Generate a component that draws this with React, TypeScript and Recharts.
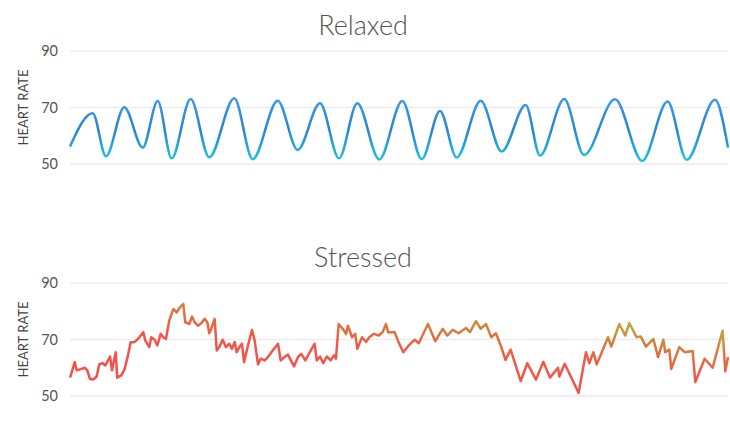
import React from 'react';
import { LineChart, Line, XAxis, YAxis, CartesianGrid } from 'recharts';

// time in seconds (0-60), heart rate in bpm
const relaxedTime = [
  0, 2.07, 3.28, 4.95, 6.63, 8.0, 9.27, 11.0, 12.7, 14.98, 16.66, 18.94, 20.76, 22.8, 24.53, 26.2, 28.2,
  30.3, 32.07, 33.74, 35.26, 37.45, 39.36, 41.55, 42.86, 45.07, 46.87, 49.7, 52.18, 54.49, 56.23, 58.81, 60,
];
const relaxedRate = [
  56.2, 68, 52.7, 70.1, 55.8, 72.3, 52, 73, 52.4, 73.3, 51.7, 72.4, 55, 71.5, 52, 71.5, 51.6,
  72.3, 51.7, 68.8, 52.3, 72.4, 54.4, 70.9, 53, 73, 53.2, 72.9, 51.1, 72.1, 51.5, 72.7, 55.8,
];

const stressedTime = [
  0, 0.12, 0.43, 0.61, 0.98, 1.34, 1.58, 1.82, 2.12, 2.43, 2.67, 2.98, 3.22, 3.47, 3.65, 3.83, 4.17, 4.31,
  4.68, 4.99, 5.29, 5.53, 5.84, 6.2, 6.68, 6.87, 7.23, 7.41, 7.72, 7.96, 8.27, 8.51, 8.75, 9.05, 9.42,
  9.73, 10.03, 10.33, 10.51, 10.88, 11.12, 11.37, 11.67, 11.97, 12.28, 12.52, 12.7, 12.88, 13.19, 13.38,
  13.61, 13.92, 14.22, 14.53, 14.77, 15.02, 15.2, 15.44, 15.68, 15.87, 16.23, 16.6, 16.84, 17.14, 17.39,
  17.75, 18.05, 18.48, 18.97, 19.21, 19.58, 19.88, 20.06, 20.43, 20.79, 21.09, 21.46, 21.95, 22.31, 22.5,
  22.8, 23.1, 23.41, 23.77, 24.07, 24.25, 24.5, 24.87, 25.17, 25.35, 25.71, 26.01, 26.2, 26.63, 26.99,
  27.29, 27.72, 28.15, 28.51, 28.81, 29.0, 29.36, 29.6, 29.91, 30.39, 30.88, 31.43, 31.8, 32.64, 33.31,
  33.98, 34.4, 34.9, 35.44, 36.11, 36.47, 37.02, 37.45, 37.93, 38.42, 38.84, 39.33, 39.71, 40.18, 41.1,
  41.7, 42.49, 43.16, 43.77, 44.5, 44.62, 45.11, 46.38, 47.05, 47.35, 47.72, 48.03, 49.06, 49.36, 50.09,
  50.63, 51.0, 51.67, 52.04, 52.52, 53.19, 53.62, 54.1, 54.28, 54.65, 54.83, 55.56, 56.05, 56.78, 57.02,
  57.87, 58.6, 59.51, 59.75, 60,
];
const stressedRate = [
  56.5, 57.9, 62, 59.1, 59.5, 60, 59.1, 56.1, 55.8, 56.9, 61.2, 61.6, 60.8, 62.6, 64, 59.1, 65.5, 56.5,
  57.3, 59.6, 64.4, 69, 69, 70.2, 72.6, 69.6, 67.3, 70.8, 69.9, 67.9, 72, 70.8, 70.2, 76.7, 80.8,
  79.6, 81.4, 82.6, 76.1, 75.5, 78.1, 76.1, 74.9, 75.8, 77.3, 76.1, 72.2, 73.8, 77.3, 66.1,
  67.3, 69.9, 67.3, 68.5, 66.7, 69.1, 65.5, 67.3, 68.5, 62, 67.9, 73.4, 69.6, 61.2, 63.2,
  62.6, 63.8, 66.1, 68.5, 62.6, 63.8, 64.7, 63.2, 60.5, 63.8, 64.9, 62.6, 66.1, 68.5, 62.6,
  64, 61.6, 64, 62.6, 64.4, 63.2, 75.5, 73.8, 72, 74.9, 70.8, 72, 66.7, 70.8, 69.1,
  70.8, 72, 71.4, 72.6, 75.5, 72.6, 72.6, 72.6, 69.5, 65.5, 67.9, 69.9, 68.7, 75.5, 69.4,
  73.8, 71.4, 73.4, 72.2, 74.1, 72.6, 76.5, 73.8, 75.5, 70.8, 72.2, 67.3, 62.8, 66.4, 55.3,
  61.6, 55.8, 62.1, 56.5, 60, 56.9, 61.4, 51.1, 65.5, 61.6, 65.5, 61.2, 70.8, 67.5, 75.5,
  71.4, 75.8, 70.8, 71.1, 67.5, 70.2, 63.8, 69.9, 65.5, 66.4, 59.6, 67.3, 65.5, 65.9, 54.9,
  63.2, 60, 73.2, 58.8, 63.8,
];

const rateTicks = [50, 70, 90];

const relaxedData = relaxedTime.map((t, i) => ({ t, rate: relaxedRate[i] }));
const stressedData = stressedTime.map((t, i) => ({ t, rate: stressedRate[i] }));

const titleStyle: React.CSSProperties = {
  position: 'absolute',
  left: 0,
  width: 726,
  textAlign: 'center',
  fontFamily: 'Lato',
  fontWeight: 300,
  fontSize: 27,
  color: '#555',
  lineHeight: '34px',
};

function HeartChart({ data, gradientId, top, children }: {
  data: { t: number; rate: number }[];
  gradientId: string;
  top: number;
  children: React.ReactNode;
}) {
  return (
    <div style={{ position: 'absolute', left: 0, top }}>
      <LineChart width={730} height={200} data={data} margin={{ top: 51, right: 2, bottom: 36, left: 0 }}>
        <defs>{children}</defs>
        <CartesianGrid vertical={false} stroke="#ececec" strokeWidth={1.5} />
        <XAxis dataKey="t" type="number" domain={[0, 60]} hide />
        <YAxis
          domain={[50, 90]}
          ticks={rateTicks}
          width={70}
          axisLine={false}
          tickLine={false}
          tickMargin={6}
          tick={{ fill: '#555', fontSize: 14.5, fontFamily: 'Lato' }}
          label={{
            value: 'HEART RATE',
            angle: -90,
            position: 'insideLeft',
            offset: 23,
            style: { fill: '#444', fontSize: 13, fontFamily: 'Lato', textAnchor: 'middle' },
          }}
        />
        <Line
          type={gradientId === 'relaxedGrad' ? 'monotone' : 'linear'}
          dataKey="rate"
          stroke={`url(#${gradientId})`}
          strokeWidth={2.5}
          strokeLinejoin="round"
          dot={false}
          activeDot={false}
          isAnimationActive={false}
        />
      </LineChart>
    </div>
  );
}

export default function App() {
  return (
    <div style={{ position: 'absolute', left: 0, top: 0, width: 730, height: 422, background: '#fff' }}>
      <div style={{ ...titleStyle, top: 8 }}>Relaxed</div>
      <HeartChart data={relaxedData} gradientId="relaxedGrad" top={0}>
        <linearGradient id="relaxedGrad" x1="0" y1="0" x2="0" y2="1">
          <stop offset="0%" stopColor="#3d9be6" />
          <stop offset="50%" stopColor="#2a84d2" />
          <stop offset="100%" stopColor="#1ec3de" />
        </linearGradient>
      </HeartChart>
      <div style={{ ...titleStyle, top: 240 }}>Stressed</div>
      <HeartChart data={stressedData} gradientId="stressedGrad" top={232}>
        <linearGradient id="stressedGrad" x1="0" y1="1" x2="0.6" y2="0">
          <stop offset="0%" stopColor="#f74d4b" />
          <stop offset="55%" stopColor="#f0574a" />
          <stop offset="72%" stopColor="#e0703f" />
          <stop offset="82%" stopColor="#d0853e" />
          <stop offset="95%" stopColor="#b9ad3c" />
          <stop offset="100%" stopColor="#b0b83c" />
        </linearGradient>
      </HeartChart>
    </div>
  );
}
